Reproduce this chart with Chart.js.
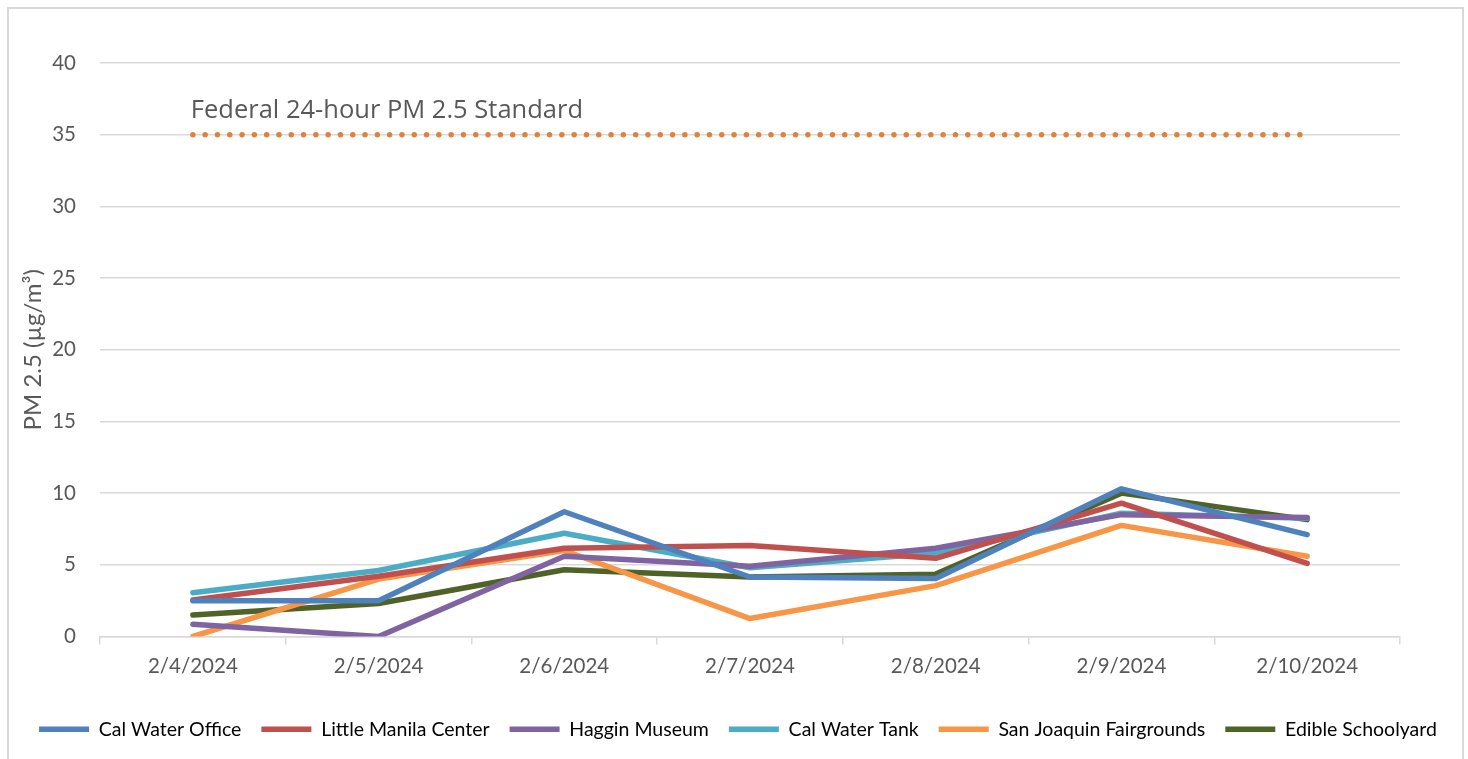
<!DOCTYPE html>
<html>
<head>
<meta charset="utf-8">
<script src="https://cdn.jsdelivr.net/npm/chart.js@4.4.1/dist/chart.umd.min.js"></script>
<style>
  html, body { margin: 0; padding: 0; background: #fff; }
  #wrap { position: relative; width: 1468px; height: 759px; }
</style>
</head>
<body>
<div id="wrap"><canvas id="pmChart" width="1468" height="759"></canvas></div>
<script>
const dates = ['2/4/2024', '2/5/2024', '2/6/2024', '2/7/2024', '2/8/2024', '2/9/2024', '2/10/2024'];

const calWaterOffice = [2.5, 2.5, 8.7, 4.15, 4.05, 10.3, 7.1];
const littleManila   = [2.55, 4.2, 6.15, 6.35, 5.45, 9.3, 5.1];
const hagginMuseum   = [0.85, 0, 5.6, 4.9, 6.15, 8.5, 8.3];
const calWaterTank   = [3.05, 4.6, 7.2, 4.8, 5.8, 8.6, 8.25];
const sjFairgrounds  = [0, 4.0, 6.0, 1.25, 3.55, 7.75, 5.6];
const edibleSchool   = [1.5, 2.3, 4.65, 4.15, 4.35, 10.0, 8.15];
const federalStd     = [35, 35, 35, 35, 35, 35, 35];

const yTicks = [0, 5, 10, 15, 20, 25, 30, 35, 40];

const grey = '#595959';
const gridCol = '#D9D9D9';

function series(label, data, color) {
  return {
    label: label,
    data: data,
    borderColor: color,
    backgroundColor: color,
    borderWidth: 5.5,
    borderCapStyle: 'round',
    borderJoinStyle: 'round',
    pointRadius: 0,
    pointHoverRadius: 0,
    tension: 0
  };
}

// frame around the whole chart + label for the standard line
const extras = {
  id: 'extras',
  beforeDraw(chart) {
    const c = chart.ctx;
    c.save();
    c.strokeStyle = gridCol;
    c.lineWidth = 2;
    c.strokeRect(8, 8, 1455, 800);
    c.restore();
  },
  afterDatasetsDraw(chart) {
    const c = chart.ctx;
    const x = chart.scales.x.getPixelForValue(0);
    const y = chart.scales.y.getPixelForValue(federalStd[0]);
    c.save();
    c.fillStyle = grey;
    c.font = '25.5px "Open Sans"';
    c.textBaseline = 'middle';
    c.fillText('Federal 24-hour PM 2.5 Standard', x - 2, y - 24);
    c.restore();
  }
};

new Chart(document.getElementById('pmChart').getContext('2d'), {
  type: 'line',
  data: {
    labels: dates,
    datasets: [
      series('Cal Water Office', calWaterOffice, '#4F81BD'),
      series('Little Manila Center', littleManila, '#C0504D'),
      series('Haggin Museum', hagginMuseum, '#8064A2'),
      series('Cal Water Tank', calWaterTank, '#4BACC6'),
      series('San Joaquin Fairgrounds', sjFairgrounds, '#F79646'),
      series('Edible Schoolyard', edibleSchool, '#4F6228'),
      Object.assign(series('Federal 24-hour PM 2.5 Standard', federalStd, '#E0813C'), {
        borderDash: [0, 12.3],
        borderWidth: 5.5
      })
    ]
  },
  options: {
    responsive: false,
    animation: false,
    layout: { padding: { left: 8, right: 0, top: 63, bottom: 10 } },
    plugins: {
      tooltip: { enabled: false },
      legend: {
        position: 'bottom',
        labels: {
          usePointStyle: true,
          pointStyle: 'line',
          pointStyleWidth: 50,
          boxHeight: 19,
          padding: 20,
          color: '#000',
          font: { family: 'Lato', size: 19.5 },
          filter: item => item.datasetIndex < 6
        }
      }
    },
    scales: {
      x: {
        offset: true,
        afterFit(scale) { scale.height = 63; },
        border: { color: gridCol, width: 1.5 },
        grid: {
          offset: true,
          drawOnChartArea: false,
          drawTicks: true,
          tickLength: 8,
          color: gridCol,
          lineWidth: 1.5
        },
        ticks: { color: grey, padding: 10, font: { family: 'Lato', size: 20.5 }, maxRotation: 0 }
      },
      y: {
        min: 0,
        max: 40,
        afterFit(scale) { scale.width = 92; },
        afterBuildTicks(scale) { scale.ticks = yTicks.map(v => ({ value: v })); },
        border: { display: false },
        grid: { color: gridCol, lineWidth: 1.5, drawTicks: false },
        ticks: { color: grey, padding: 24, font: { family: 'Lato', size: 20.5 } },
        title: {
          display: true,
          text: 'PM 2.5 (µg/m³)',
          color: grey,
          padding: { top: 11, bottom: 0 },
          font: { family: 'Lato', size: 24 }
        }
      },
      // empty right-hand gutter so the plot stops where the original does
      yRight: {
        position: 'right',
        min: 0,
        max: 40,
        afterFit(scale) { scale.width = 68; },
        border: { display: false },
        grid: { display: false },
        ticks: { display: false }
      }
    }
  },
  plugins: [extras]
});
</script>
</body>
</html>
